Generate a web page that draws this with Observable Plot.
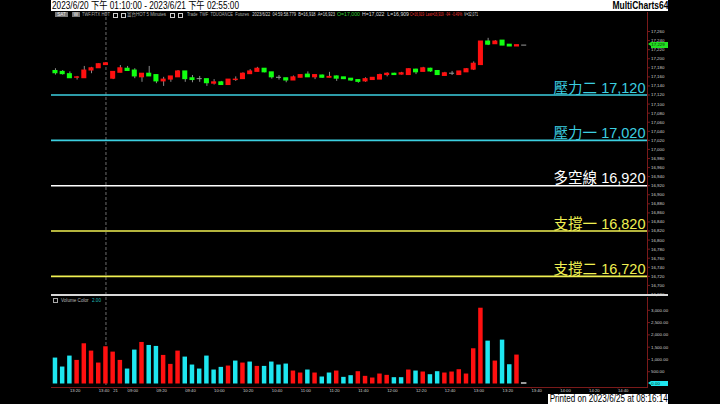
<!DOCTYPE html>
<html><head><meta charset="utf-8">
<script src="https://cdn.jsdelivr.net/npm/d3@7"></script>
<script src="https://cdn.jsdelivr.net/npm/@observablehq/plot@0.6"></script>
<style>
html,body{margin:0;padding:0;background:#000;}
#wrap{position:relative;width:720px;height:404px;overflow:hidden;background:#000;font-family:"Liberation Sans","Noto Sans CJK TC",sans-serif;}
.abs{position:absolute;}
#title{left:51px;top:0;width:617px;height:11px;background:#fff;color:#000;}
#title span{position:absolute;top:-1px;font-size:10.5px;line-height:12px;white-space:nowrap;}
#title .l{left:1px;}
#title .r{right:0;font-weight:bold;}
#sepline{left:51px;top:294px;width:617px;height:1.5px;background:#d8d8d8;}
#info span{position:absolute;top:12px;font-size:4.6px;line-height:5px;white-space:nowrap;color:#b0b0b0;}
#info .box{background:#777;color:#eee;height:5px;}
#info .sq{border:0.6px solid #ccc;width:3px;height:3.4px;}
#vl span{position:absolute;top:297.5px;font-size:4.6px;line-height:5px;white-space:nowrap;color:#b8b8b8;}
#printed{left:548px;top:394px;width:120px;height:10px;background:#fff;}
#printed span{position:absolute;right:0.5px;top:-1px;color:#000;font-size:10px;line-height:12px;white-space:nowrap;}
#markers{position:absolute;left:0;top:0;width:720px;height:404px;z-index:5;}
.mk{position:absolute;left:647.5px;width:20px;height:5.4px;font-size:4.4px;line-height:5.4px;color:#0c300c;white-space:nowrap;}
.mk .arrow{position:absolute;left:0;top:0;width:0;height:0;border-top:2.7px solid transparent;border-bottom:2.7px solid transparent;border-right:3px solid var(--c);}
.mk .body{position:absolute;left:3px;top:0;width:17px;height:5.4px;background:var(--c);padding-left:0.8px;box-sizing:border-box;}
</style></head>
<body>
<div id="wrap">
  <div id="pp" class="abs" style="left:0;top:12px"></div>
  <div id="vp" class="abs" style="left:0;top:296px"></div>
  <div id="sepline" class="abs"></div>
  <div id="title" class="abs"><span class="l" data-fit="187">2023/6/20 下午 01:10:00 - 2023/6/21 下午 02:55:00</span><span class="r" data-fit="56" data-origin="right">MultiCharts64</span></div>
  <div id="info">
    <span class="box" style="left:55px;width:13px;text-align:center">SAT</span>
    <span class="box" style="left:72px;width:8px;text-align:center">W</span>
    <span style="left:82px" data-fit="28">TWF.FITX HOT</span>
    <span class="sq" style="left:113px;top:12.5px"></span>
    <span class="sq" style="left:121px;top:12.5px"></span>
    <span style="left:127px" data-fit="39">富台HOT 5 Minutes</span>
    <span class="sq" style="left:170px;top:12.5px"></span>
    <span class="sq" style="left:178px;top:12.5px"></span>
    <span style="left:187px" data-fit="148">Trade&nbsp; TWF&nbsp; TDUOANCE&nbsp; Futures&nbsp;&nbsp; <b style="color:#ddd;font-weight:normal">2023/6/22&nbsp; 04:59:58.779&nbsp; B=16,918&nbsp; A=16,923</b></span>
    <span style="left:337px;color:#3c3" data-fit="23">O=17,000</span>
    <span style="left:362px;color:#ddd" data-fit="47">H=17,022&nbsp; L=16,909</span>
    <span style="left:410px;color:#e33" data-fit="52">C=16,919&nbsp; Last=16,919&nbsp; -94&nbsp; -0.49%</span>
    <span style="left:464px;color:#ddd" data-fit="14">V=32,071</span>
  </div>
  <div id="vl">
    <span style="left:53px;width:3.4px;height:3.4px;top:298px;border:0.6px solid #aaa"></span>
    <span style="left:61px">Volume Color</span>
    <span style="left:92px;color:#2bb">2.00</span>
  </div>
  <div id="printed" class="abs"><span data-fit="118" data-origin="right">Printed on 2023/6/25 at 08:16:14</span></div>
  <div id="markers"></div>
</div>
<script>
// ---------- data ----------
const day1Times = ["13:10","13:15","13:20","13:25","13:30","13:35","13:40","13:45"];
const day2Start = "08:50", day2End = "13:35";
const openP  = [17173,17171,17166,17158,17157,17174,17179,17186,17156,17169,17178,17174,17159,17167,17164,17150,17154,17159,17172,17157,17155,17155,17145,17148,17142,17153,17155,17166,17171,17178,17170,17158,17157,17152,17158,17165,17159,17163,17158,17161,17159,17156,17153,17150,17153,17154,17164,17167,17165,17164,17176,17171,17178,17173,17162,17167,17164,17170,17176,17186,17238,17232,17240,17231,17227,17229];
const highP  = [17178,17174,17171,17161,17183,17181,17189,17191,17171,17185,17183,17178,17167,17183,17164,17159,17161,17174,17172,17163,17161,17155,17154,17150,17154,17160,17169,17176,17181,17178,17170,17163,17157,17162,17164,17171,17164,17164,17170,17162,17159,17156,17153,17158,17158,17166,17169,17168,17170,17178,17177,17181,17179,17173,17170,17172,17172,17178,17193,17238,17245,17240,17240,17231,17230,17229];
const lowP   = [17164,17164,17157,17153,17157,17167,17179,17186,17154,17169,17172,17156,17148,17161,17145,17139,17148,17159,17148,17147,17148,17139,17142,17142,17142,17150,17155,17166,17171,17169,17155,17153,17147,17152,17158,17159,17154,17157,17158,17150,17154,17150,17146,17148,17153,17154,17160,17164,17164,17164,17165,17171,17170,17164,17162,17163,17164,17170,17174,17186,17229,17232,17229,17227,17227,17229];
const closeP = [17168,17166,17157,17159,17174,17179,17188,17190,17171,17179,17173,17161,17167,17161,17150,17154,17161,17172,17155,17153,17155,17146,17148,17142,17154,17154,17167,17172,17178,17170,17159,17158,17152,17159,17164,17159,17164,17158,17160,17156,17155,17152,17149,17155,17158,17164,17167,17164,17168,17177,17170,17179,17172,17164,17168,17167,17172,17177,17189,17238,17231,17238,17229,17227,17230,17229];
const volume = [1015,650,1096,920,1597,1299,812,1475,1258,920,568,1340,1651,1529,1489,1123,758,1299,1055,731,568,1096,528,636,690,893,812,853,676,676,853,731,771,487,406,528,406,244,406,487,230,298,460,271,203,365,311,217,217,528,487,447,338,460,406,447,541,365,1394,3045,1705,893,1746,744,1137,0];
// volume colour as shown: "r" red, "d" cyan, "n" gray
const volDir = "dddrrrrrrrddrddrrrddddddrdrdrddddrrdrddrddrrrrrddrdrddrrrrrrdrddrn".split("");
const levelNames  = ["壓力二","壓力一","多空線","支撐一","支撐二"];
const levelValues = [17120,17020,16920,16820,16720];
const levelColors = ["#3ccfe0","#3ccfe0","#ffffff","#f0f052","#f0f052"];
const priceTicks = d3.range(16680, 17261, 20);
const volTicks = [500,1000,1500,2000,2500,3000];
const xTickDefs = [[20,"13:20"],[20,"13:40"],[21,"21"],[21,"09:00"],[21,"09:20"],[21,"09:40"],[21,"10:00"],[21,"10:20"],[21,"10:40"],[21,"11:00"],[21,"11:20"],[21,"11:40"],[21,"12:00"],[21,"12:20"],[21,"12:40"],[21,"13:00"],[21,"13:20"],[21,"13:40"],[21,"14:00"],[21,"14:20"],[21,"14:40"]];
const xDomain = [-0.55, 82.1];
const yDomain = [16680, 17302];
const volDomain = [0, 3522];

// ---------- text fitting ----------
document.querySelectorAll("[data-fit]").forEach(el => {
  const w = el.getBoundingClientRect().width, target = +el.dataset.fit;
  if (w > 0) { el.style.transform = `scaleX(${target / w})`; el.style.transformOrigin = (el.dataset.origin || "left") + " center"; }
});

// ---------- build ----------
const toMin = t => { const [h,m] = t.split(":").map(Number); return h*60+m; };
const sepIndex = day1Times.length - 1;
function idxOf(day, t){
  if (day === 20) return (toMin(t)-toMin(day1Times[0]))/5;
  if (!t.includes(":")) return day1Times.length;
  return day1Times.length + (toMin(t)-toMin(day2Start))/5;
}
const xTicks = xTickDefs.map(([d,t]) => idxOf(d,t));
const xLabel = new Map(xTickDefs.map(([d,t]) => [idxOf(d,t), t]));

const RED = "#ff1010", GREEN = "#10ff10", GRAY = "#9a9a9a", CYAN = "#1ee6f0";
const data = openP.map((o,i) => ({i, o, h:highP[i], l:lowP[i], c:closeP[i], v:volume[i],
  col: closeP[i] > o ? RED : closeP[i] < o ? GREEN : GRAY,
  vcol: volDir[i] === "r" ? RED : volDir[i] === "d" ? CYAN : GRAY}));
const levels = levelValues.map((v,k) => ({value:v, name:levelNames[k], color:levelColors[k]}));
const fmt = d3.format(",");
const baseStyle = {background:"transparent", color:"#d0d0d0", fontFamily:"Liberation Sans, Noto Sans CJK TC, sans-serif", overflow:"visible"};

const price = Plot.plot({
  width:720, height:282, marginTop:0, marginBottom:0, marginLeft:51, marginRight:73,
  x:{domain:xDomain, axis:null}, y:{domain:yDomain, axis:null},
  color:{type:"identity"},
  style: baseStyle,
  marks:[
    Plot.ruleX([sepIndex], {stroke:"#5a5a5a", strokeDasharray:"3,2", strokeWidth:1.2}),
    Plot.ruleY(levels, {y:"value", stroke:"color", strokeWidth:1.6}),
    Plot.text(levels, {y:"value", text:d => d.name + " " + fmt(d.value), fill:"color", frameAnchor:"right", textAnchor:"end", lineAnchor:"bottom", dx:-2, dy:-2.5, fontSize:14.5}),
    Plot.ruleX(data, {x:"i", y1:"l", y2:"h", stroke:"#8a8a8a", strokeWidth:1}),
    Plot.rect(data, {x1:d=>d.i-0.35, x2:d=>d.i+0.35, y1:d=>Math.min(d.o,d.c), y2:d=>Math.max(d.o,d.c), fill:"col", insetTop:-0.5, insetBottom:-0.5}),
    Plot.axisY({anchor:"right", label:null, ticks:priceTicks, tickFormat:fmt, tickSize:2, tickPadding:1.5, fontSize:4.4, stroke:"#7a1a1a"}),
    Plot.frame({anchor:"right", stroke:"#7a1a1a"})
  ]
});
document.getElementById("pp").append(price);

const vol = Plot.plot({
  width:720, height:108, marginTop:1, marginBottom:17, marginLeft:51, marginRight:73,
  x:{domain:xDomain, axis:null}, y:{domain:volDomain, axis:null, insetBottom:3.5},
  color:{type:"identity"},
  style: baseStyle,
  marks:[
    Plot.ruleX([sepIndex], {stroke:"#5a5a5a", strokeDasharray:"3,2", strokeWidth:1.2}),
    Plot.rect(data, {x1:d=>d.i-0.31, x2:d=>d.i+0.31, y1:0, y2:"v", fill:"vcol", stroke:d => d.v === 0 ? GRAY : "none", insetTop:-1}),
    Plot.axisY({anchor:"right", label:null, ticks:volTicks, tickFormat:d3.format(",.2f"), tickSize:2, tickPadding:1.5, fontSize:4.4, stroke:"#7a1a1a"}),
    Plot.axisX({label:null, ticks:xTicks, tickFormat:d => xLabel.get(d), textAnchor:"start", tickSize:1.5, tickPadding:0.3, fontSize:4.2, stroke:"#7a1a1a"}),
    Plot.frame({anchor:"right", stroke:"#7a1a1a"}),
    Plot.frame({anchor:"bottom", stroke:"#7a1a1a"})
  ]
});
document.getElementById("vp").append(vol);

// value markers on the axes (positioned from the plots' own y scales)
function marker(svg, top, value, label, fill){
  const y = top + svg.scale("y").apply(value);
  const d = document.createElement("div");
  d.className = "mk";
  d.style.top = (y - 2.7) + "px";
  d.style.setProperty("--c", fill);
  d.innerHTML = `<div class="arrow"></div><div class="body"></div>`;
  d.querySelector(".body").textContent = label;
  document.getElementById("markers").append(d);
}
const last = data[data.length-1];
marker(price, 12, last.c, fmt(last.c), "#22e022");
marker(vol, 296, last.v, d3.format(",.2f")(last.v), CYAN);
</script>
</body></html>
